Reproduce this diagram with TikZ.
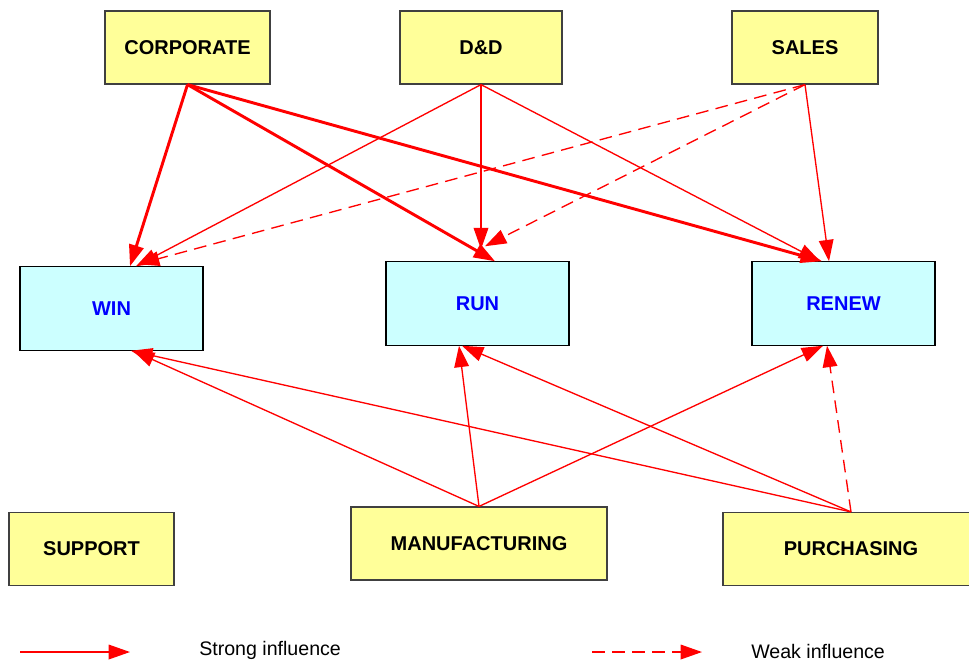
\documentclass[tikz,border=0pt]{standalone}
\usepackage{fontspec}
\setmainfont{Liberation Sans}
\usetikzlibrary{arrows.meta,calc}
\definecolor{unitfill}{HTML}{FFFF99}
\definecolor{phasefill}{HTML}{CCFFFF}
\definecolor{linkred}{HTML}{FF0000}
\definecolor{phasetext}{HTML}{0000FF}
\tikzset{
  unit/.style={draw=black!75, line width=0.9pt, fill=unitfill, inner sep=0pt,
    font=\bfseries\fontsize{15}{17}\selectfont, text=black, minimum height=54.75pt},
  phase/.style={draw=black, line width=0.9pt, fill=phasefill, inner sep=0pt,
    font=\bfseries\fontsize{15}{17}\selectfont, text=phasetext,
    minimum width=137.25pt, minimum height=62.5pt},
  strong/.style={draw=linkred, line width=1pt, -{Triangle[length=16pt,width=11pt]}},
  heavy/.style={strong, line width=2.2pt},
  weak/.style={strong, dash pattern=on 9.5pt off 5.5pt},
  legendtext/.style={font=\fontsize{14.7}{17}\selectfont, anchor=base west, inner sep=0pt}
}
\begin{document}
\begin{tikzpicture}[x=0.75pt, y=-0.75pt]
  \useasboundingbox (0,0) rectangle (969,662);

  % business units
  \node[unit, minimum width=123.75pt] (corp)  at (187.5,47.5) {CORPORATE};
  \node[unit, minimum width=121.5pt]  (dd)    at (481,47.5)   {D\&D};
  \node[unit, minimum width=109.5pt]  (sales) at (805,47.5)   {SALES};

  % lifecycle phases
  \node[phase] (win)   at (111.5,308.5) {WIN};
  \node[phase] (run)   at (477.5,303.5) {RUN};
  \node[phase] (renew) at (843.5,303.5) {RENEW};

  % supporting units
  \node[unit, minimum width=123.75pt] (support) at (91.5,549) {SUPPORT};
  \node[unit, minimum width=192pt]    (manuf)   at (479,543.5) {MANUFACTURING};
  \node[unit, minimum width=192pt]    (purch)   at (851,549)   {PURCHASING};

  % corporate influence
  \draw[heavy] (corp.south) -- ($(win.north)+(18.5,0)$);
  \draw[heavy] (corp.south) -- ($(run.north)+(17.5,0)$);
  \draw[heavy] (corp.south) -- ($(renew.north)+(-21.5,0)$);

  % D&D influence
  \draw[strong] (dd.south) -- ($(win.north)+(24.5,0)$);
  \draw[strong] (dd.south) -- ($(run.north)+(3.5,-12)$);
  \draw[strong] (dd.south) -- ($(renew.north)+(-23.5,0)$);

  % sales influence
  \draw[weak]   (sales.south) -- ($(win.north)+(26.5,-2)$);
  \draw[weak]   (sales.south) -- ($(run.north)+(7.5,-15)$);
  \draw[strong] (sales.south) -- ($(renew.north)+(-14.5,0)$);

  % manufacturing influence
  \draw[strong] (manuf.north) -- ($(win.south)+(21.5,0)$);
  \draw[strong] (manuf.north) -- ($(run.south)+(-18.5,0)$);
  \draw[strong] (manuf.north) -- ($(renew.south)+(-20.5,0)$);

  % purchasing influence
  \draw[strong] (purch.north) -- ($(win.south)+(19.5,0)$);
  \draw[strong] (purch.north) -- ($(run.south)+(-15.5,0)$);
  \draw[weak]   (purch.north) -- ($(renew.south)+(-16.5,0)$);

  % legend
  \coordinate (strongA) at (20,652);
  \coordinate (strongB) at (130,652);
  \draw[strong] (strongA) -- (strongB);
  \node[legendtext] (strongLabel) at (199,655) {Strong influence};

  \coordinate (weakA) at (592,652);
  \coordinate (weakB) at (702,652);
  \draw[weak] (weakA) -- (weakB);
  \node[legendtext] (weakLabel) at (751,658) {Weak influence};
\end{tikzpicture}
\end{document}
